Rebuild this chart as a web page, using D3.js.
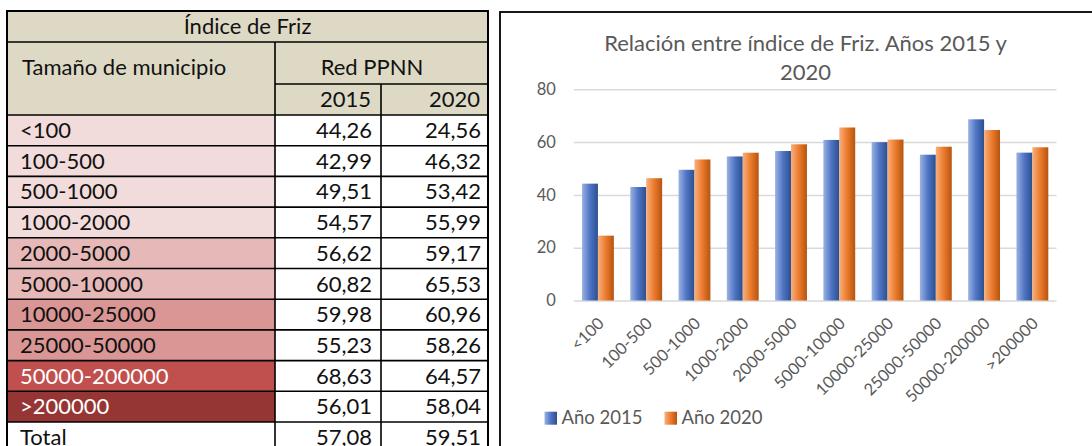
<!DOCTYPE html>
<html lang='es'>
<head>
	<meta charset='utf-8'>
	<title>Índice de Friz</title>
	<script src="https://d3js.org/d3.v7.min.js"></script>
	<style>
		body{margin:0;background:#fff;}
		svg text{font-family:Lato,'Open Sans',sans-serif;}
	</style>
</head>
<body>
<div id='page'></div>
<script type='text/javascript'>
	const categories = ['<100','100-500','500-1000','1000-2000','2000-5000','5000-10000','10000-25000','25000-50000','50000-200000','>200000'];
	const values2015 = [44.26,42.99,49.51,54.57,56.62,60.82,59.98,55.23,68.63,56.01];
	const values2020 = [24.56,46.32,53.42,55.99,59.17,65.53,60.96,58.26,64.57,58.04];
	const totalRow = {label:'Total', v2015:57.08, v2020:59.51};
	const seriesNames = ['Año 2015','Año 2020'];
	const yTicks = [0,20,40,60,80];

	// row fills of the first table column (conditional format look)
	const rowFills = ['#f2dcdb','#f2dcdb','#f2dcdb','#f2dcdb','#e6b8b7','#e6b8b7','#da9694','#da9694','#c0504d','#963634'];
	const darkRows = ['50000-200000','>200000'];

	const es = d3.formatLocale({decimal:',',thousands:'.',grouping:[3],currency:['','€']});
	const fmt = es.format('.2f');

	const svg = d3.select('#page').append('svg')
		.attr('width',1092)
		.attr('height',446);

	//---------------- table ----------------
	let tbl = {left:7, right:488, c1:275, c2:381, top:11, h1:42, h2:84, h3:115};
	let fs = '22px';
	let rows = categories.map(function(c,i){return {label:c,v2015:values2015[i],v2020:values2020[i],fill:rowFills[i]};});
	rows.push({label:totalRow.label,v2015:totalRow.v2015,v2020:totalRow.v2020,fill:'#fff'});

	let rowScale = d3.scaleBand()
		.domain(d3.range(rows.length))
		.range([tbl.h3, tbl.h3 + 30.7*rows.length]);

	let th = svg.append('g');
	th.append('rect').attr('x',tbl.left).attr('y',tbl.top).attr('width',tbl.right-tbl.left).attr('height',tbl.h3-tbl.top).attr('fill','#ddd9c4');
	th.append('text').attr('x',(tbl.left+tbl.right)/2).attr('y',(tbl.top+tbl.h1)/2).attr('dy','0.35em')
		.attr('text-anchor','middle').style('font-size',fs).attr('fill','#111').text('Índice de Friz');
	th.append('text').attr('x',22).attr('y',67).attr('dy','0.35em')
		.style('font-size',fs).attr('fill','#111').text('Tamaño de municipio');
	th.append('text').attr('x',372).attr('y',67).attr('dy','0.35em')
		.attr('text-anchor','middle').style('font-size',fs).attr('fill','#111').text('Red PPNN');
	th.append('text').attr('x',371).attr('y',(tbl.h2+tbl.h3)/2).attr('dy','0.35em')
		.attr('text-anchor','end').style('font-size',fs).attr('fill','#111').text('2015');
	th.append('text').attr('x',480).attr('y',(tbl.h2+tbl.h3)/2).attr('dy','0.35em')
		.attr('text-anchor','end').style('font-size',fs).attr('fill','#111').text('2020');

	let tr = svg.append('g').selectAll('g')
		.data(rows)
		.enter()
		.append('g')
			.attr('transform',function(d,i){return `translate(0,${rowScale(i)})`;});

	tr.append('rect').attr('x',tbl.left).attr('y',0).attr('width',tbl.c1-tbl.left).attr('height',rowScale.bandwidth())
		.attr('fill',function(d){return d.fill;});
	tr.append('text').attr('x',20).attr('y',rowScale.bandwidth()/2).attr('dy','0.35em')
		.style('font-size',fs)
		.attr('fill',function(d){return darkRows.indexOf(d.label)>=0 ? '#fff' : '#111';})
		.text(function(d){return d.label;});
	tr.append('text').attr('x',372).attr('y',rowScale.bandwidth()/2).attr('dy','0.35em')
		.attr('text-anchor','end').style('font-size',fs).attr('fill','#111')
		.text(function(d){return fmt(d.v2015);});
	tr.append('text').attr('x',481).attr('y',rowScale.bandwidth()/2).attr('dy','0.35em')
		.attr('text-anchor','end').style('font-size',fs).attr('fill','#111')
		.text(function(d){return fmt(d.v2020);});

	// grid lines of the table
	let lines = svg.append('g').attr('stroke','#000').attr('stroke-width',1.6).attr('fill','none');
	let bottom = rowScale.range()[1];
	lines.append('path').attr('d',`M${tbl.left},${bottom} V${tbl.top} H${tbl.right} V${bottom}`).attr('stroke-width',2);
	lines.append('line').attr('x1',tbl.left).attr('x2',tbl.right).attr('y1',tbl.h1).attr('y2',tbl.h1);
	lines.append('line').attr('x1',tbl.c1).attr('x2',tbl.right).attr('y1',tbl.h2).attr('y2',tbl.h2);
	lines.append('line').attr('x1',tbl.c1).attr('x2',tbl.c1).attr('y1',tbl.h1).attr('y2',bottom);
	lines.append('line').attr('x1',tbl.c2).attr('x2',tbl.c2).attr('y1',tbl.h2).attr('y2',bottom);
	rows.forEach(function(d,i){
		lines.append('line').attr('x1',tbl.left).attr('x2',tbl.right).attr('y1',rowScale(i)).attr('y2',rowScale(i));
	});

	//---------------- chart ----------------
	svg.append('rect').attr('x',500).attr('y',12).attr('width',700).attr('height',500)
		.attr('fill','#fff').attr('stroke','#000').attr('stroke-width',1.8);

	let defs = svg.append('defs');
	let grads = [['g2015','#9bb3e2','#4f74c4','#2c4f8f'],['g2020','#f6b07e','#ec7a2c','#b5540f']];
	grads.forEach(function(g){
		let lg = defs.append('linearGradient').attr('id',g[0]).attr('x1','0%').attr('x2','100%').attr('y1','0%').attr('y2','0%');
		lg.append('stop').attr('offset','0%').attr('stop-color',g[1]);
		lg.append('stop').attr('offset','50%').attr('stop-color',g[2]);
		lg.append('stop').attr('offset','100%').attr('stop-color',g[3]);
	});

	let plot = {left:573.8, right:1056.5, top:89.3, bottom:300.5};

	let x = d3.scaleBand()
		.domain(categories)
		.range([plot.left,plot.right])
		.paddingInner(0.34)
		.paddingOuter(0.17);
	let xSub = d3.scaleBand()
		.domain(seriesNames)
		.range([0,x.bandwidth()]);
	let y = d3.scaleLinear()
		.domain([0,80])
		.range([plot.bottom,plot.top]);
	let fills = d3.scaleOrdinal().domain(seriesNames).range(['url(#g2015)','url(#g2020)']);

	svg.append('text')
		.attr('x',805.5).attr('y',43).attr('dy','0.35em')
		.attr('text-anchor','middle').style('font-size','22px').attr('fill','#595959')
		.text('Relación entre índice de Friz. Años 2015 y');
	svg.append('text')
		.attr('x',805.5).attr('y',72).attr('dy','0.35em')
		.attr('text-anchor','middle').style('font-size','22px').attr('fill','#595959')
		.text('2020');

	let yAxis = svg.append('g')
		.attr('transform',`translate(${plot.left},0)`)
		.call(d3.axisLeft(y).tickValues(yTicks).tickSize(-(plot.right-plot.left)).tickPadding(18));
	yAxis.select('.domain').remove();
	yAxis.selectAll('line').attr('stroke','#d9d9d9').attr('stroke-width',1.5);
	yAxis.selectAll('text').attr('fill','#595959').style('font-size','16.5px').style('font-family','Lato');

	let barData = categories.map(function(c,i){return {cat:c,vals:[{key:seriesNames[0],value:values2015[i]},{key:seriesNames[1],value:values2020[i]}]};});
	svg.append('g')
		.selectAll('g')
		.data(barData)
		.enter()
		.append('g')
			.attr('transform',function(d){return `translate(${x(d.cat)},0)`;})
		.selectAll('rect')
		.data(function(d){return d.vals;})
		.enter()
		.append('rect')
			.attr('x',function(d){return xSub(d.key);})
			.attr('y',function(d){return y(d.value);})
			.attr('width',xSub.bandwidth())
			.attr('height',function(d){return plot.bottom - y(d.value);})
			.attr('fill',function(d){return fills(d.key);});

	let xAxis = svg.append('g')
		.attr('transform',`translate(0,${plot.bottom})`)
		.call(d3.axisBottom(x).tickSize(0).tickPadding(0));
	xAxis.select('.domain').remove();
	xAxis.selectAll('text')
		.attr('fill','#595959')
		.style('font-size','16.5px').style('font-family','Lato')
		.attr('text-anchor','end')
		.attr('dy',0)
		.attr('y',0)
		.attr('transform','translate(7,24) rotate(-45)');

	let legend = svg.append('g');
	seriesNames.forEach(function(d,i){
		let lx = 544.5 + i*120;
		legend.append('rect').attr('x',lx).attr('y',411.7).attr('width',12.5).attr('height',13).attr('fill',fills(d));
		legend.append('text').attr('x',lx+17).attr('y',418).attr('dy','0.35em')
			.style('font-size','18.5px').attr('fill','#595959').text(d);
	});
</script>
</body>
</html>
